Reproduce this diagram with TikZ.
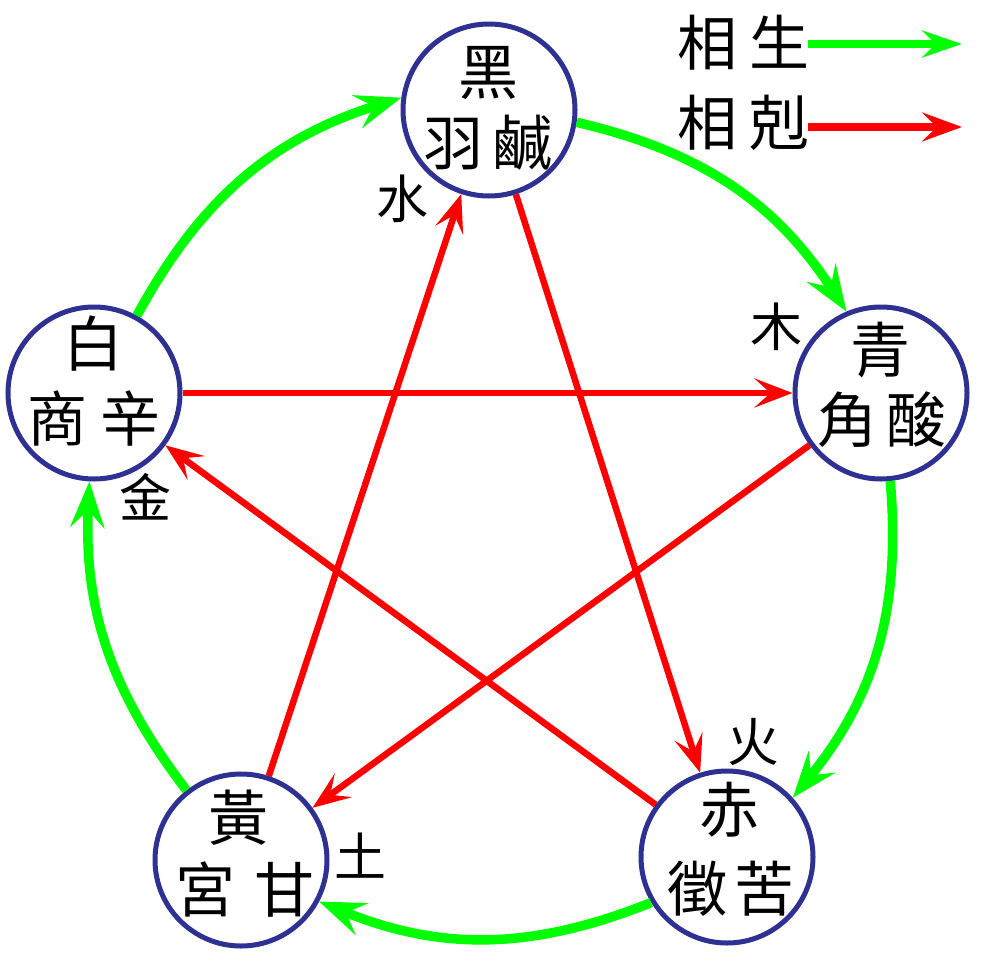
\documentclass[tikz,border=0pt]{standalone}
\usepackage{fontspec}
\newfontfamily\cjk{Noto Sans CJK TC}
\usetikzlibrary{arrows.meta}
\definecolor{navy}{RGB}{46,49,146}
\definecolor{grn}{RGB}{0,255,0}
\definecolor{rd}{RGB}{255,0,0}
\begin{document}
\begin{tikzpicture}[x=1pt,y=-1pt,
  elem/.style={circle, draw=navy, line width=5pt, minimum size=172pt, inner sep=0pt, fill=white},
  big/.style={font=\cjk\fontsize{60}{60}\selectfont, inner sep=0pt},
  small/.style={font=\cjk\fontsize{52}{52}\selectfont, inner sep=0pt},
  sheng/.style={draw=grn, line width=9.5pt, -{Stealth[length=46pt,width=34pt,inset=17pt]}},
  ke/.style={draw=rd, line width=6.5pt, -{Stealth[length=38pt,width=29pt,inset=16pt]}},
]
\useasboundingbox[fill=white] (0,0) rectangle (980,980);

\node[elem] (hei) at (489,110) {};
\node[elem] (qing) at (881,393) {};
\node[elem] (chi) at (727,857) {};
\node[elem] (huang) at (241,860) {};
\node[elem] (bai) at (94,393) {};

\draw[sheng] (bai.61) to[bend left=22] (hei.172);
\draw[sheng] (hei.352) to[bend left=22] (qing.113);
\draw[sheng] (qing.276) to[bend left=22] (chi.42);
\draw[sheng] (chi.211) to[bend left=22] (huang.332);
\draw[sheng] (huang.128) to[bend left=20] (bai.267);

\draw[ke] (bai) -- (qing);
\draw[ke] (qing) -- (huang);
\draw[ke] (huang) -- (hei);
\draw[ke] (hei) -- (chi);
\draw[ke] (chi) -- (bai);

\node[big] (t1) at (488,73) {黑};
\node[big] (b1) at (488,143) {羽\hspace{10pt}鹹};
\node[big] (t2) at (880,350) {青};
\node[big] (b2) at (882,420) {角\hspace{9pt}酸};
\node[big] (t3) at (729,810) {赤};
\node[big] (b3) at (731,889) {徵\hspace{7pt}苦};
\node[big] (t4) at (238,818) {黃};
\node[big] (b4) at (245,890) {宮\hspace{19pt}甘};
\node[big] (t5) at (93,344) {白};
\node[big] (b5) at (94,419) {商\hspace{13pt}辛};

\node[small] (shui) at (402,199) {水};
\node[small] (mu) at (776,327) {木};
\node[small] (huo) at (753,742) {火};
\node[small] (jin) at (145,497) {金};
\node[small] (tu) at (360,856) {土};

\node[big] (lg1) at (743,43) {相\hspace{12pt}生};
\node[big] (lg2) at (743,123) {相\hspace{12pt}剋};
\coordinate (g1) at (808,44);
\coordinate (g2) at (962,44);
\coordinate (r1) at (808,127);
\coordinate (r2) at (962,127);
\draw[sheng, line width=8pt, -{Stealth[length=40pt,width=27pt,inset=14pt]}] (g1) -- (g2);
\draw[ke, line width=8pt, -{Stealth[length=40pt,width=29pt,inset=15pt]}] (r1) -- (r2);
\end{tikzpicture}
\end{document}
